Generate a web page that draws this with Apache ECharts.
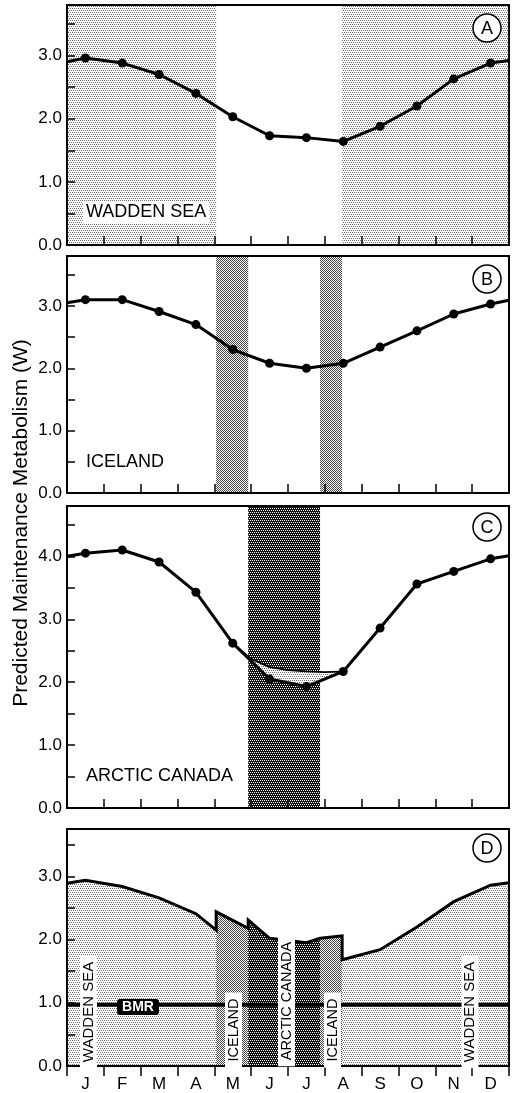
<!DOCTYPE html>
<html>
<head>
<meta charset="utf-8">
<script src="https://cdn.jsdelivr.net/npm/echarts@6/dist/echarts.min.js"></script>
<style>
html,body{margin:0;padding:0;background:#fff;}
#chart{width:516px;height:1093px;}
</style>
</head>
<body>
<div id="chart"></div>
<script>
// ---------- DATA ----------
const months = ['J','F','M','A','M','J','J','A','S','O','N','D'];
const monthMid = [0.5,1.5,2.5,3.5,4.5,5.5,6.5,7.5,8.5,9.5,10.5,11.5];

// Panel A: Wadden Sea
const waddenSea = [2.96,2.88,2.70,2.40,2.03,1.73,1.70,1.64,1.88,2.20,2.63,2.88];
const waddenEdges = [2.90,2.92];
// Panel B: Iceland
const iceland = [3.10,3.10,2.91,2.70,2.30,2.08,2.00,2.08,2.34,2.60,2.87,3.03];
const icelandEdges = [3.05,3.09];
// Panel C: Arctic Canada
const arcticCanada = [4.05,4.10,3.91,3.43,2.62,2.05,1.93,2.17,2.86,3.56,3.76,3.96];
const arcticEdges = [4.00,4.01];
const arcticAltX = [4.5,5.0,5.5,6.0,6.5,7.0,7.5];
const arcticAlt  = [2.62,2.37,2.24,2.19,2.17,2.16,2.17];

// Stay periods (month units, 0 = 1 Jan)
const waddenStay  = [[0,4.05],[7.47,12]];
const icelandStay = [[4.05,4.92],[6.87,7.47]];
const arcticStay  = [[4.92,6.87]];

// Panel D: composite annual cycle
const dWaddenSpringX = [0,0.5,1.5,2.5,3.5,4.05];
const dWaddenSpring  = [2.89,2.94,2.84,2.66,2.41,2.15];
const dIcelandSpringX = [4.05,4.92];
const dIcelandSpring  = [2.44,2.18];
const dArcticX = [4.92,5.5,6.5,6.87];
const dArctic  = [2.31,2.02,1.95,2.02];
const dIcelandAutumnX = [6.87,7.47];
const dIcelandAutumn  = [2.02,2.06];
const dWaddenAutumnX = [7.47,8.5,9.5,10.5,11.5,12];
const dWaddenAutumn  = [1.68,1.84,2.20,2.60,2.86,2.90];
const bmr = 0.97;

// ---------- PATTERNS ----------
function pattern(size, bg, fg, test) {
  const c = document.createElement('canvas');
  c.width = c.height = size;
  const ctx = c.getContext('2d');
  ctx.fillStyle = bg; ctx.fillRect(0,0,size,size);
  ctx.fillStyle = fg;
  for (let y = 0; y < size; y++) for (let x = 0; x < size; x++) if (test(x,y)) ctx.fillRect(x, y, 1, 1);
  return {image: c, repeat: 'repeat'};
}
// dot screens on an offset lattice
const onLattice = (x,y) => (y % 2 === 0) && ((x + y/2) % 2 === 0);
const lightPat  = pattern(4, '#fff', '#6e6e6e', onLattice);
const mediumPat = pattern(4, '#fff', '#444', (x,y) => (x + y) % 2 === 0);
const darkPat   = pattern(4, '#111', '#fff', onLattice);

// ---------- HELPERS ----------
const FONT = "'Liberation Sans', Arial, Helvetica, sans-serif";
function pairs(xs, ys) { return xs.map((x,i) => [x, ys[i]]); }
function curve(vals, edges) {
  return [{value:[0, edges[0]], symbol:'none'}]
    .concat(monthMid.map((x,i) => [x, vals[i]]))
    .concat([{value:[12, edges[1]], symbol:'none'}]);
}
function bands(list, pat) {
  return {silent:true, itemStyle:{color:pat, borderWidth:0},
          data: list.map(r => [{xAxis:r[0]},{xAxis:r[1]}])};
}

const grids = [
  {left:67, width:442, top:5,   height:240},
  {left:67, width:442, top:256, height:237},
  {left:67, width:442, top:506, height:302},
  {left:67, width:442, top:829, height:239}
].map(g => Object.assign(g, {show:true, borderColor:'#000', borderWidth:2, backgroundColor:'transparent', z:10}));

const yMax = [3.8, 3.8, 4.8, 3.75];
const yAxes = yMax.map((m, i) => ({
  type:'value', gridIndex:i, min:0, max:m, interval:0.5, z:10,
  axisLine:{show:true, lineStyle:{color:'#000', width:2}},
  axisTick:{show:true, inside:true, length:8, lineStyle:{color:'#000', width:1.5}},
  splitLine:{show:false},
  axisLabel:{color:'#000', fontSize:17, fontFamily:FONT, margin:5,
    formatter: v => (Math.abs(v - Math.round(v)) < 1e-9) ? v.toFixed(1) : ''}
}));

const xAxes = [0,1,2,3].map(i => ({
  type:'value', gridIndex:i, min:0, max:12, interval:1, z:10,
  axisLine:{show:true, onZero:false, lineStyle:{color:'#000', width:2}},
  axisTick:{show:true, inside: i < 3, length: i < 3 ? 9 : 10, lineStyle:{color:'#000', width:1.5}},
  splitLine:{show:false},
  axisLabel:{show:false}
}));
xAxes.push({
  type:'category', gridIndex:3, data:months, boundaryGap:true, position:'bottom',
  axisLine:{show:false}, axisTick:{show:false}, splitLine:{show:false},
  axisLabel:{color:'#000', fontSize:17, fontFamily:FONT, margin:10}
});

const mainLine = {color:'#000', width:3};
const series = [
  // Panel A
  {type:'line', xAxisIndex:0, yAxisIndex:0, data:curve(waddenSea, waddenEdges), z:4,
   symbol:'circle', symbolSize:9, showAllSymbol:true, itemStyle:{color:'#000'}, lineStyle:mainLine,
   markArea: bands(waddenStay, lightPat), animation:false},
  // Panel B
  {type:'line', xAxisIndex:1, yAxisIndex:1, data:curve(iceland, icelandEdges), z:4,
   symbol:'circle', symbolSize:9, showAllSymbol:true, itemStyle:{color:'#000'}, lineStyle:mainLine,
   markArea: bands(icelandStay, mediumPat), animation:false},
  // Panel C lens (alternative curve)
  {type:'custom', xAxisIndex:2, yAxisIndex:2, data:[[4.5, 2.62]], z:3, animation:false,
   renderItem: function(params, api) {
     const pts = arcticAltX.map((x,i) => api.coord([x, arcticAlt[i]]));
     for (let i = 7; i >= 4; i--) pts.push(api.coord([monthMid[i], arcticCanada[i]]));
     return {type:'polygon', shape:{points:pts},
             style:{fill:lightPat, stroke:'#000', lineWidth:1.8}};
   }},
  // Panel C main
  {type:'line', xAxisIndex:2, yAxisIndex:2, data:curve(arcticCanada, arcticEdges), z:4,
   symbol:'circle', symbolSize:9, showAllSymbol:true, itemStyle:{color:'#000'}, lineStyle:mainLine,
   markArea: bands(arcticStay, darkPat), animation:false},
];

// Panel D areas
const dSegs = [
  [dWaddenSpringX, dWaddenSpring, lightPat],
  [dIcelandSpringX, dIcelandSpring, mediumPat],
  [dArcticX, dArctic, darkPat],
  [dIcelandAutumnX, dIcelandAutumn, mediumPat],
  [dWaddenAutumnX, dWaddenAutumn, lightPat]
];
let envelope = [];
dSegs.forEach(s => {
  const d = pairs(s[0], s[1]);
  envelope = envelope.concat(d);
  series.push({type:'line', xAxisIndex:3, yAxisIndex:3, data:d, symbol:'none', z:2,
    lineStyle:{width:0}, areaStyle:{color:s[2], opacity:1}, animation:false});
});
series.push({type:'line', xAxisIndex:3, yAxisIndex:3, data:envelope, symbol:'none', z:4,
  lineStyle:{color:'#000', width:3, join:'miter'}, animation:false});
series.push({type:'line', xAxisIndex:3, yAxisIndex:3, data:[[0,bmr],[12,bmr]], symbol:'none', z:5,
  lineStyle:{color:'#000', width:4}, animation:false});

// ---------- ANNOTATIONS ----------
function circleLetter(letter, cx, cy) {
  return [
    {type:'circle', shape:{cx:cx, cy:cy, r:14}, style:{fill:'#fff', stroke:'#000', lineWidth:1.5}, z:100},
    {type:'text', x:cx, y:cy+1, z:101, style:{text:letter, font:'18px '+FONT, fill:'#000', align:'center', verticalAlign:'middle'}}
  ];
}
function panelLabel(text, x, y) {
  return {type:'text', x:x, y:y, z:100, style:{text:text, font:'18px '+FONT, fill:'#000',
    align:'left', verticalAlign:'middle', backgroundColor:'#fff', padding:[2,3]}};
}
function vLabel(text, x, y, size) {
  return {type:'text', x:x, y:y, rotation:Math.PI/2, z:100, style:{text:text, font:size+'px '+FONT, fill:'#000',
    align:'center', verticalAlign:'middle', backgroundColor:'#fff', padding:[1,6]}};
}
const graphic = [].concat(
  circleLetter('A', 487, 28),
  circleLetter('B', 487, 279),
  circleLetter('C', 487, 527),
  circleLetter('D', 487, 848),
  [
    panelLabel('WADDEN SEA', 83, 212),
    panelLabel('ICELAND', 83, 462),
    panelLabel('ARCTIC CANADA', 83, 776),
    vLabel('WADDEN SEA', 88.5, 1012, 15),
    vLabel('ICELAND', 233.5, 1030, 14.5),
    vLabel('ARCTIC CANADA', 286.5, 1001, 14.5),
    vLabel('ICELAND', 332.5, 1030, 14.5),
    vLabel('WADDEN SEA', 470, 1012, 15),
    {type:'text', x:138, y:1007, z:102, style:{text:'BMR', font:'bold 14px '+FONT, fill:'#fff',
      align:'center', verticalAlign:'middle', backgroundColor:'#000', borderRadius:3, padding:[1,5]}},
    {type:'text', x:21, y:523, rotation:Math.PI/2, z:100, style:{text:'Predicted Maintenance Metabolism (W)',
      font:'21px '+FONT, fill:'#000', align:'center', verticalAlign:'middle'}}
  ]
);

const chart = echarts.init(document.getElementById('chart'), null, {renderer:'canvas'});
chart.setOption({
  animation:false,
  backgroundColor:'#fff',
  grid:grids,
  xAxis:xAxes,
  yAxis:yAxes,
  series:series,
  graphic:graphic
});
</script>
</body>
</html>
